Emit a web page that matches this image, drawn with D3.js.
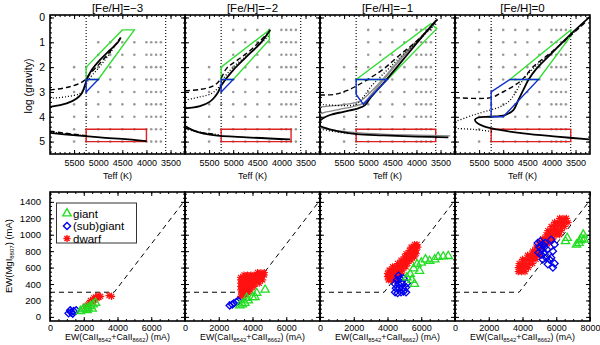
<!DOCTYPE html>
<html>
<head>
<meta charset="utf-8">
<script src="https://cdn.jsdelivr.net/npm/d3@7"></script>
<style>
  body { margin: 0; background: #fff; }
  svg { display: block; }
</style>
</head>
<body>
<div id="chart"></div>
<script>
// ---- data ----
const panelTitles = ["[Fe/H]=\u22123", "[Fe/H]=\u22122", "[Fe/H]=\u22121", "[Fe/H]=0"];

const teffTicks = [5500, 5000, 4500, 4000, 3500];
const loggTicks = [0, 1, 2, 3, 4, 5];
const ewTicks = [0, 2000, 4000, 6000, 8000];
const mgTicks = [0, 200, 400, 600, 800, 1000, 1200, 1400];

// model atmosphere grid (grey dots)
const gridTeff = [5500, 5250, 5000, 4750, 4500, 4250, 4000, 3900, 3800, 3700];
const gridLogg = [0.5, 1, 1.5, 2, 2.5, 3, 3.5, 4, 4.5, 5];
const gridLoggMin = [1, 0.5, 0.5, 0.5];      // lowest logg row in each panel
const gridHotLoggMin = [2, 2, 2, 0.5];       // lowest logg row for Teff > 5000

const teffCuts = [5250, 3600];               // dotted verticals

// isochrones [Teff, logg]
const solidTracks = [
  [[[6000,3.6],[5654,3.46],[5447,3.26],[5343,3.06],[5274,2.72],[5226,2.45],[5136,2.12],[4963,1.71],[4755,1.31],[4583,0.98],[4533,0.8]],
   [[6000,4.65],[5517,4.74],[4963,4.83],[4377,4.91],[4000,4.98]]],
  [[[6000,3.66],[5690,3.57],[5482,3.39],[5378,3.19],[5309,2.99],[5240,2.72],[5000,2.12],[4723,1.58],[4440,1.04],[4232,0.5]],
   [[6000,4.37],[5758,4.6],[5413,4.74],[4723,4.83],[3820,4.91]]],
  [[[3560,0.08],[3614,0.17],[3994,1.04],[4340,1.85],[4687,2.65],[4963,3.26],[5066,3.53],[5205,3.66],[5516,3.8],[5793,3.93],[5986,4.13],[6040,4.3],[5862,4.47],[5585,4.6],[5239,4.7],[4687,4.75],[3994,4.8],[3338,4.83]]],
  [[[3150,-0.12],[3614,0.7],[4029,1.51],[4306,2.05],[4479,2.52],[4583,2.92],[4687,3.33],[4789,3.73],[4963,3.93],[5274,4.0],[5516,4.03],[5585,4.11],[5550,4.24],[5412,4.38],[5136,4.51],[4583,4.67],[3890,4.8],[3220,4.91]]]
];
const dashedTracks = [
  [[[6000,2.92],[5654,2.82],[5381,2.65],[5277,2.52],[5194,2.32],[5000,1.92],[4755,1.38],[4550,0.85]],
   [[6000,4.58],[5600,4.68],[5250,4.76]]],
  [[[6000,2.95],[5690,2.9],[5413,2.76],[5275,2.52],[5137,2.05],[4900,1.7],[4600,1.25],[4300,0.65]],
   [[6000,4.45],[5700,4.62],[5400,4.7]]],
  [[[6000,3.12],[5700,3.1],[5447,2.95],[5274,2.79],[5031,2.52],[4700,2.1],[4340,1.5],[3994,0.95],[3614,0.2]]],
  [[[6000,3.23],[5250,3.23],[5066,3.06],[4859,2.85],[4616,2.52],[4376,1.98],[4000,1.4],[3614,0.75],[3300,0.2]]]
];
const dottedTracks = [
  [[[6000,3.26],[5654,3.19],[5381,3.06],[5274,2.82],[5205,2.52],[5000,2.05],[4755,1.44],[4565,0.88]],
   [[6000,4.62],[5500,4.72],[5200,4.78]]],
  [[[6000,3.33],[5690,3.2],[5447,3.06],[5290,2.78],[5200,2.45],[5000,2.0],[4700,1.5],[4400,1.0],[4250,0.7]],
   [[6000,4.5],[5600,4.65],[5300,4.72]]],
  [[[6000,3.5],[5516,3.55],[5250,3.5],[5100,3.2],[4950,2.8],[4700,2.3],[4340,1.6],[3994,1.0],[3650,0.35]],
   [[6000,4.5],[5700,4.6],[5400,4.68]]],
  [[[6000,4.2],[5620,3.93],[5274,3.73],[5066,3.6],[4894,3.4],[4755,3.06],[4616,2.59],[4400,2.1],[4050,1.5],[3650,0.8],[3300,0.2]],
   [[6000,4.47],[5620,4.51],[5205,4.6]]]
];
const greyTracks = [
  [], [],
  [[[3600,0.2],[4000,1.0],[4350,1.75],[4700,2.55],[4980,3.2],[5100,3.45],[5300,3.58],[5600,3.7],[5900,3.82],[6000,3.88]],
   [[3650,0.3],[4050,1.05],[4400,1.8],[4750,2.6],[5000,3.1],[5150,3.35],[5400,3.48],[5700,3.55],[6000,3.6]],
   [[6000,4.45],[5700,4.55],[5300,4.63],[4700,4.7],[4000,4.74],[3300,4.77]]],
  []
];

// selection regions [Teff, logg]
const giantBox = [
  [[5250,2.0],[4500,0.5],[4250,0.5],[5000,2.5],[5250,2.5]],
  [[5250,2.0],[4250,0.5],[4250,0.9],[5000,2.5],[5250,2.5]],
  [[5250,2.5],[3700,0.25],[3580,0.45],[4600,2.5]],
  [[4860,2.5],[3600,0.5],[3600,0.75],[4270,2.5]]
];
const subgiantBox = [
  [[5250,2.5],[5000,2.5],[5250,3.0]],
  [[5250,2.5],[5000,2.5],[5250,3.0]],
  [[5250,2.5],[4600,2.5],[5100,3.5],[5250,3.1]],
  [[5250,3.0],[4860,2.5],[4270,2.5],[5000,4.0],[5250,4.0]]
];
const dwarfBox = [
  [[5250,4.5],[4000,4.5],[4000,5.0],[5250,5.0]],
  [[5250,4.5],[3800,4.5],[3800,5.0],[5250,5.0]],
  [[5250,4.5],[3600,4.5],[3600,5.0],[5250,5.0]],
  [[5250,4.5],[3600,4.5],[3600,5.0],[5250,5.0]]
];

// equivalent widths [EW(CaII), EW(MgI)] in mA
const giantEW = [
  [[1800,70],[1950,90],[2100,100],[2250,110],[2400,130],[2550,150],[2700,170],[2200,80],[2500,100]],
  [[3250,140],[3400,150],[3550,170],[3750,200],[3650,230],[4000,240],[4150,240],[4250,290],[4750,330]],
  [[5150,480],[5350,520],[5450,450],[5600,400],[5550,590],[5750,640],[5900,560],[6000,660],[6250,700],[6500,680],[6800,700],[7000,730],[7300,735],[7600,740]],
  [[6550,920],[6650,960],[7200,880],[7350,900],[7400,930],[7500,950],[7600,1000],[7650,940]]
];
const subgiantEW = [
  [[1100,45],[1250,55],[1400,70],[1550,80],[1200,80],[1350,40]],
  [[2650,140],[2800,150],[2900,165],[3050,180],[3150,195]],
  [[4450,300],[4600,290],[4800,300],[4950,310],[4500,350],[4700,350],[4900,350],[5100,360],[4450,400],
   [4650,400],[4850,410],[5150,410],[4550,450],[4750,460],[4950,470],[4650,500],[5100,300]],
  [[4900,900],[5050,920],[5200,880],[5000,850],[5150,820],[5300,850],[4950,780],[5100,760],[5300,780],
   [5450,820],[5200,700],[5400,720],[5600,700],[5700,940],[5900,880],[5800,800],[5700,720],[5900,650],
   [5800,600],[5500,640],[5350,900]]
];
const dwarfEW = [
  [[2100,130],[2200,140],[2300,160],[2400,170],[2500,180],[2600,200],[2700,210],[2800,230],[2900,240],
   [3000,250],[2400,200],[2600,230],[2300,120],[2700,240],[2850,260],[3500,260],[3650,250]],
  [[4300,540],[4500,540],[4700,540],
   [3500,510],[3700,510],[3900,510],[4100,510],[4300,510],[4500,510],[4700,510],
   [3300,480],[3500,480],[3700,480],[3900,480],[4100,480],[4300,480],[4500,480],
   [3300,450],[3500,450],[3700,450],[3900,450],[4100,450],[4300,450],[4600,450],
   [3300,410],[3500,410],[3700,410],[3900,410],[4100,410],[4400,410],
   [3300,370],[3500,370],[3700,370],[3900,370],[4100,370],
   [3300,330],[3500,330],[3700,330],[3900,330],
   [3350,290],[3550,290],[3750,290],
   [3300,250],[3500,250]],
  [[5600,880],[5750,880],
   [5400,850],[5600,850],[5800,850],
   [5300,810],[5500,810],[5700,810],
   [5100,770],[5300,770],[5500,770],[5700,770],
   [5000,730],[5200,730],[5400,730],[5600,730],
   [4800,690],[5000,690],[5200,690],[5400,690],
   [4600,650],[4800,650],[5000,650],[5200,650],
   [4300,610],[4500,610],[4700,610],[4900,610],[5100,610],
   [4100,570],[4300,570],[4500,570],[4700,570],[4900,570],
   [4000,530],[4200,530],[4400,530],[4600,530],[4800,530],
   [4000,490],[4200,490],[4400,490],[4600,490],
   [4050,450],[4250,450],[4450,450]],
  [[6200,1200],[6400,1200],[6600,1200],
   [5900,1150],[6100,1150],[6300,1150],[6500,1150],[6700,1150],
   [5700,1100],[5900,1100],[6100,1100],[6300,1100],[6500,1100],
   [5500,1050],[5700,1050],[5900,1050],[6100,1050],[6300,1050],
   [5400,1000],[5600,1000],[5800,1000],[6000,1000],[6200,1000],
   [5200,950],[5400,950],[5600,950],[5800,950],
   [5000,900],[5200,900],[5400,900],[5600,900],
   [4800,850],[5000,850],[5200,850],
   [4600,800],[4800,800],[5000,800],
   [4300,750],[4500,750],[4700,750],[4900,750],[5100,750],
   [4000,700],[4200,700],[4400,700],[4600,700],[4800,700],
   [3800,650],[4000,650],[4200,650],[4400,650],[4600,650],
   [3750,600],[3950,600],[4150,600],[4350,600],
   [3750,550],[3950,550],[4150,550]]
];

// CaII / MgI separation line
const dividerEW = [0, 3800, 8000];
const dividerMg = [300, 300, 1420];

const legendLabels = ["giant", "(sub)giant", "dwarf"];

// ---- layout ----
const width = 600, height = 345;
const FONT = '"Liberation Sans", Arial, Helvetica, sans-serif';
const left = 50, panelW = 135;
const topY = 15, topH = 139;
const botY = 192, botH = 129;
const green = "#22dd22", blue = "#0000ee", red = "#ff1111";

const svg = d3.select("#chart").append("svg")
  .attr("width", width)
  .attr("height", height)
  .style("font-family", FONT);

const tri = d3.symbol(d3.symbolTriangle, 30)();
const dia = d3.symbol(d3.symbolSquare, 26)();
function asterisk(r) {
  let p = "";
  for (let k = 0; k < 4; k++) {
    const a = k * Math.PI / 4;
    p += `M${r * Math.cos(a)},${r * Math.sin(a)}L${-r * Math.cos(a)},${-r * Math.sin(a)}`;
  }
  return p;
}
const ast = asterisk(3.6);

const inside = (s, vals) => {
  const [a, b] = d3.extent(s.domain());
  return vals.filter(v => v >= a - 1e-9 && v <= b + 1e-9);
};

function drawFrame(g, x, y, o) {
  const yTop = Math.min(...y.range()), yBot = Math.max(...y.range());
  const xL = Math.min(...x.range()), xR = Math.max(...x.range());
  const add = (axis, tr, fs, keepText) => g.append("g").attr("transform", tr).call(axis)
    .call(a => a.select(".domain").remove())
    .call(a => { if (!keepText) a.selectAll("text").remove(); else a.selectAll("text").filter(function () { return this.textContent === ""; }).remove(); })
    .attr("font-size", fs).style("font-family", FONT);
  add(d3.axisBottom(x).tickValues(inside(x, o.xMinor)).tickSize(-2), `translate(0,${yBot})`);
  add(d3.axisBottom(x).tickValues(inside(x, o.xMajor)).tickSize(-4).tickPadding(o.xPad).tickFormat(o.xFmt), `translate(0,${yBot})`, o.xFs, true);
  add(d3.axisTop(x).tickValues(inside(x, o.xMinor)).tickSize(-2), `translate(0,${yTop})`);
  add(d3.axisTop(x).tickValues(inside(x, o.xMajor)).tickSize(-4), `translate(0,${yTop})`);
  add(d3.axisLeft(y).tickValues(inside(y, o.yMinor)).tickSize(-2), `translate(${xL},0)`);
  add(d3.axisLeft(y).tickValues(inside(y, o.yMajor)).tickSize(-4).tickPadding(o.yPad).tickFormat(o.yFmt), `translate(${xL},0)`, o.yFs, o.yLabels);
  add(d3.axisRight(y).tickValues(inside(y, o.yMinor)).tickSize(-2), `translate(${xR},0)`);
  add(d3.axisRight(y).tickValues(inside(y, o.yMajor)).tickSize(-4), `translate(${xR},0)`);
}

const teffMinor = d3.range(3300, 6001, 100);
const loggMinor = d3.range(0, 28).map(k => +(k * 0.2).toFixed(1));
const ewMinor = d3.range(0, 8001, 500);
const mgMinor = d3.range(0, 1501, 50);

const frames = svg.append("g");

panelTitles.forEach((title, i) => {
  const x0 = left + i * panelW;

  // ---------- top: Kiel diagram ----------
  const xT = d3.scaleLinear().domain([6000, 3200]).range([x0, x0 + panelW]);
  const yG = d3.scaleLinear().domain([-0.1, 5.5]).range([topY, topY + topH]);

  svg.append("clipPath").attr("id", "clipT" + i)
    .append("rect").attr("x", x0).attr("y", topY).attr("width", panelW).attr("height", topH);
  const gt = svg.append("g").attr("clip-path", `url(#clipT${i})`);

  // grid dots
  const gridPts = [];
  gridLogg.forEach(lg => gridTeff.forEach(t => {
    if (lg < gridLoggMin[i]) return;
    if (t > 5000 && lg < gridHotLoggMin[i]) return;
    gridPts.push([t, lg]);
  }));
  gt.selectAll(".gd").data(gridPts).join("circle")
    .attr("cx", d => xT(d[0])).attr("cy", d => yG(d[1])).attr("r", 1.3).attr("fill", "#9a9a9a");

  // dotted Teff limits
  gt.selectAll(".cut").data(teffCuts).join("line")
    .attr("x1", d => xT(d)).attr("x2", d => xT(d))
    .attr("y1", topY).attr("y2", topY + topH)
    .attr("stroke", "#000").attr("stroke-width", 1.1).attr("stroke-dasharray", "1,2");

  // regions
  const poly = d3.line().x(d => xT(d[0])).y(d => yG(d[1]));
  gt.append("path").attr("d", poly(dwarfBox[i]) + "Z").attr("fill", "none").attr("stroke", "#dd2020").attr("stroke-width", 1.4);
  gt.append("path").attr("d", poly(giantBox[i]) + "Z").attr("fill", "none").attr("stroke", "#33dd33").attr("stroke-width", 1.4);

  // isochrones
  const curve = d3.line().x(d => xT(d[0])).y(d => yG(d[1])).curve(d3.curveCatmullRom.alpha(0.5));
  greyTracks[i].forEach(t => gt.append("path").attr("d", curve(t)).attr("fill", "none")
    .attr("stroke", "#8a8a8a").attr("stroke-width", 1.3));
  dottedTracks[i].forEach(t => gt.append("path").attr("d", curve(t)).attr("fill", "none")
    .attr("stroke", "#000").attr("stroke-width", 1.3).attr("stroke-dasharray", "1,2"));
  dashedTracks[i].forEach(t => gt.append("path").attr("d", curve(t)).attr("fill", "none")
    .attr("stroke", "#000").attr("stroke-width", 1.4).attr("stroke-dasharray", "5,3"));
  solidTracks[i].forEach(t => gt.append("path").attr("d", curve(t)).attr("fill", "none")
    .attr("stroke", "#000").attr("stroke-width", 1.8));

  gt.append("path").attr("d", poly(subgiantBox[i]) + "Z").attr("fill", "none").attr("stroke", "#1030d0").attr("stroke-width", 1.4);

  const ft = frames.append("g");
  drawFrame(ft, xT, yG, {
    xMajor: teffTicks, xMinor: teffMinor, xPad: 5.5, xFmt: d => d, xFs: 9,
    yMajor: loggTicks, yMinor: loggMinor, yPad: 5, yFmt: d => d, yFs: 10.5, yLabels: i === 0
  });
  ft.append("rect").attr("x", x0).attr("y", topY).attr("width", panelW).attr("height", topH)
    .attr("fill", "none").attr("stroke", "#000").attr("stroke-width", 1.6);

  svg.append("text").attr("x", x0 + panelW / 2).attr("y", 11.5)
    .attr("text-anchor", "middle").attr("font-size", 11.5).text(title);
  svg.append("text").attr("x", x0 + panelW / 2).attr("y", 178.5)
    .attr("text-anchor", "middle").attr("font-size", 9).text("Teff  (K)");

  // ---------- bottom: EW diagram ----------
  const xE = d3.scaleLinear().domain([0, 8000]).range([x0, x0 + panelW]);
  const yM = d3.scaleLinear().domain([-50, 1520]).range([botY + botH, botY]);

  svg.append("clipPath").attr("id", "clipB" + i)
    .append("rect").attr("x", x0).attr("y", botY).attr("width", panelW).attr("height", botH);
  const gb = svg.append("g").attr("clip-path", `url(#clipB${i})`);

  gb.append("path")
    .attr("d", d3.line().x(d => xE(d[0])).y(d => yM(d[1]))(dividerEW.map((v, k) => [v, dividerMg[k]])))
    .attr("fill", "none").attr("stroke", "#000").attr("stroke-width", 1).attr("stroke-dasharray", "5,4");

  gb.selectAll(".dw").data(dwarfEW[i]).join("path")
    .attr("d", ast).attr("transform", d => `translate(${xE(d[0])},${yM(d[1])})`)
    .attr("stroke", red).attr("stroke-width", 1.2).attr("fill", "none");
  gb.selectAll(".sg").data(subgiantEW[i]).join("path")
    .attr("d", dia).attr("transform", d => `translate(${xE(d[0])},${yM(d[1])}) rotate(45)`)
    .attr("stroke", blue).attr("stroke-width", 1.3).attr("fill", "none");
  gb.selectAll(".gi").data(giantEW[i]).join("path")
    .attr("d", tri).attr("transform", d => `translate(${xE(d[0])},${yM(d[1])})`)
    .attr("stroke", green).attr("stroke-width", 1.3).attr("fill", "none");

  const fb = frames.append("g");
  drawFrame(fb, xE, yM, {
    xMajor: ewTicks, xMinor: ewMinor, xPad: 4, xFs: 9,
    xFmt: d => (d === 8000 && i < 3) ? "" : d,
    yMajor: mgTicks, yMinor: mgMinor, yPad: 9, yFmt: d => d, yFs: 9.5, yLabels: i === 0
  });
  fb.append("rect").attr("x", x0).attr("y", botY).attr("width", panelW).attr("height", botH)
    .attr("fill", "none").attr("stroke", "#000").attr("stroke-width", 1.6);

  const xl = svg.append("text").attr("x", x0 + panelW / 2).attr("y", 340)
    .attr("text-anchor", "middle").attr("font-size", 8.8);
  xl.append("tspan").text("EW(CaII");
  xl.append("tspan").attr("font-size", 5.8).attr("dy", 2).text("8542");
  xl.append("tspan").attr("dy", -2).text("+CaII");
  xl.append("tspan").attr("font-size", 5.8).attr("dy", 2).text("8662");
  xl.append("tspan").attr("dy", -2).text(")  (mA)");
});

// y titles
svg.append("text").attr("transform", "translate(32,86) rotate(-90)")
  .attr("text-anchor", "middle").attr("font-size", 10.5).text("log  (gravity)");
const yl = svg.append("text").attr("transform", "translate(12,256) rotate(-90)")
  .attr("text-anchor", "middle").attr("font-size", 9.5);
yl.append("tspan").text("EW(MgI");
yl.append("tspan").attr("font-size", 6).attr("dy", 2).text("8807");
yl.append("tspan").attr("dy", -2).text(")  (mA)");

// legend
const lg = svg.append("g");
lg.append("rect").attr("x", 56.5).attr("y", 203).attr("width", 80).attr("height", 40)
  .attr("fill", "#fff").attr("stroke", "#333").attr("stroke-width", 1);
const legendMarks = [
  { d: tri, c: green, rot: 0 },
  { d: dia, c: blue, rot: 45 },
  { d: ast, c: red, rot: 0 }
];
legendLabels.forEach((t, k) => {
  const yy = 213.5 + k * 12.5;
  lg.append("path").attr("d", legendMarks[k].d)
    .attr("transform", `translate(67,${yy}) rotate(${legendMarks[k].rot})`)
    .attr("fill", "none").attr("stroke", legendMarks[k].c).attr("stroke-width", 1.4);
  lg.append("text").attr("x", 73).attr("y", yy + 4).attr("font-size", 11.5).text(t);
});
</script>
</body>
</html>
